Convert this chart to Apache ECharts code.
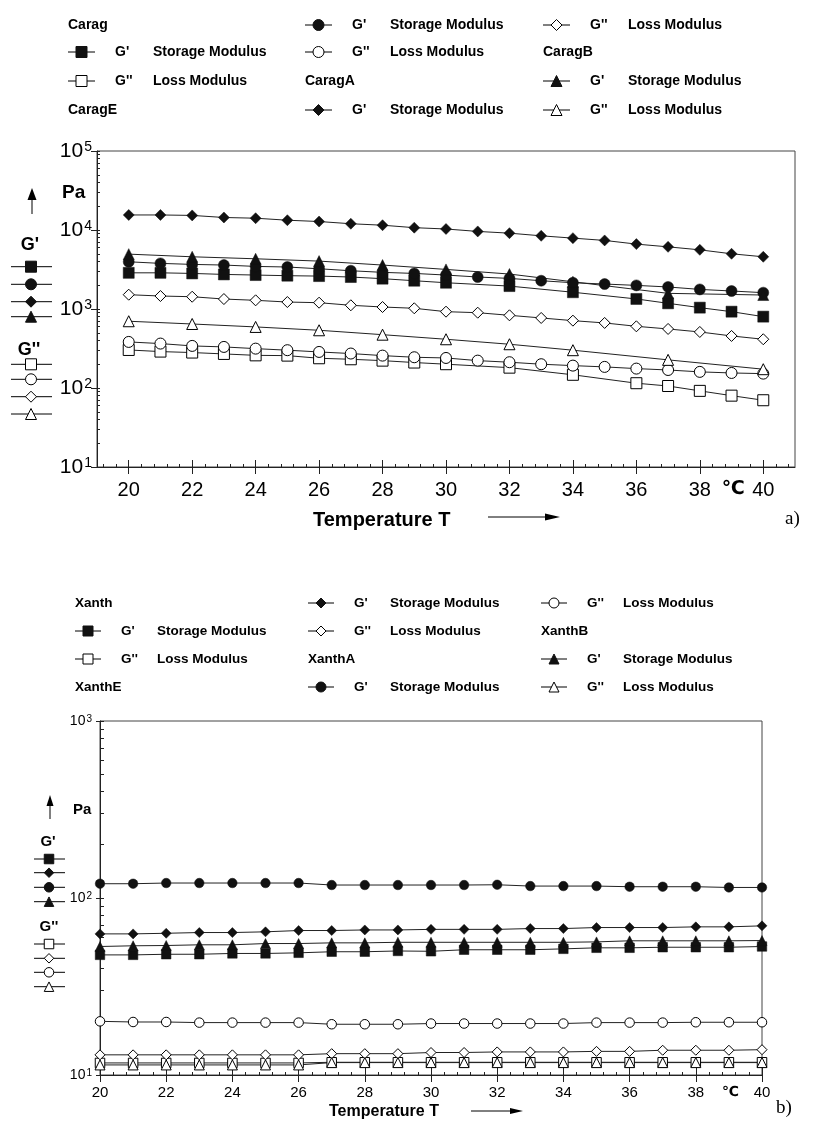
<!DOCTYPE html>
<html><head><meta charset="utf-8">
<script src="https://cdn.jsdelivr.net/npm/echarts@6/dist/echarts.min.js"></script>
<style>html,body{margin:0;padding:0;background:#fff}#c{width:816px;height:1122px}</style>
</head><body><div id="c"></div>
<script>
// ---------- DATA: chart a (Carrageenan) ----------
const tempAll = [20,21,22,23,24,25,26,27,28,29,30,31,32,33,34,35,36,37,38,39,40];
const tempCarag = [20,21,22,23,24,25,26,27,28,29,30,32,34,36,37,38,39,40];
const tempCaragB = [20,22,24,26,28,30,32,34,37,40];
const caragG1  = [2870,2870,2820,2740,2690,2640,2610,2540,2420,2280,2150,1950,1630,1340,1180,1040,925,800];
const caragG2  = [303,289,281,270,259,257,238,231,222,210,200,181,147,115,106,92,80,70];
const caragEG1 = [3960,3780,3670,3600,3460,3400,3230,3050,2910,2820,2690,2540,2440,2280,2150,2070,1990,1900,1770,1690,1610];
const caragEG2 = [383,365,341,331,315,301,286,273,257,245,240,222,212,200,192,185,176,169,160,155,152];
const caragAG1 = [15500,15500,15300,14400,14100,13300,12800,12000,11500,10700,10300,9590,9120,8440,7890,7380,6630,6120,5610,5000,4580];
const caragAG2 = [1517,1460,1430,1337,1288,1225,1202,1114,1060,1021,925,898,832,770,712,666,604,559,512,456,414];
const caragBG1 = [4950,4580,4320,4040,3600,3170,2770,2210,1578,1503];
const caragBG2 = [700,646,593,538,473,414,358,301,227,173];

// ---------- DATA: chart b (Xanthan) ----------
const xanthG1  = [47.7,47.7,48.1,48.1,48.6,48.6,49.0,49.7,49.7,50.2,50.0,51.0,51.0,51.0,51.6,52.3,52.3,52.7,52.7,52.7,53.2];
const xanthG2  = [11.7,11.7,11.7,11.7,11.7,11.7,11.7,11.8,11.8,11.8,11.8,11.8,11.8,11.8,11.8,11.8,11.8,11.8,11.8,11.8,11.8];
const xanthEG1 = [62.7,62.7,63.2,63.8,63.8,64.4,65.5,65.5,66.0,66.0,66.5,66.5,66.5,67.2,67.2,68.1,68.1,68.1,68.7,68.7,69.6];
const xanthEG2 = [13.0,13.0,13.0,13.0,13.0,13.0,13.0,13.2,13.2,13.2,13.4,13.4,13.5,13.5,13.5,13.6,13.6,13.8,13.8,13.8,13.9];
const xanthAG1 = [120.4,120.4,121.5,121.5,121.5,121.5,121.5,118.4,118.4,118.4,118.4,118.4,118.8,116.8,116.8,116.8,115.8,115.8,115.8,114.7,114.7];
const xanthAG2 = [20.1,19.93,19.93,19.77,19.77,19.77,19.77,19.35,19.35,19.35,19.53,19.53,19.53,19.53,19.53,19.77,19.77,19.77,19.86,19.86,19.86];
const xanthBG1 = [53.2,53.7,53.9,54.4,54.4,55.3,55.3,55.8,55.8,56.2,56.2,56.2,56.2,56.2,56.2,56.5,57.3,57.3,57.3,57.3,57.5];
const xanthBG2 = [11.4,11.4,11.4,11.4,11.4,11.4,11.4,11.75,11.75,11.75,11.75,11.75,11.75,11.75,11.75,11.75,11.75,11.75,11.75,11.75,11.75];

// ---------- tick labels ----------
const xMajor = [20,22,24,26,28,30,32,34,36,38,40];
const CELSIUS_POS = 39.05;
const xLabels = [20,22,24,26,28,30,32,34,36,38,CELSIUS_POS,40];
const celsiusText = '℃';
const storageText = "Storage Modulus", lossText = "Loss Modulus";

// legend entries in reading (column-major) order
const legendA = [
  {h:'Carag'}, {s:'rect',f:1,g:"G'",t:storageText}, {s:'rect',f:0,g:"G''",t:lossText}, {h:'CaragE'},
  {s:'circle',f:1,g:"G'",t:storageText}, {s:'circle',f:0,g:"G''",t:lossText}, {h:'CaragA'}, {s:'diamond',f:1,g:"G'",t:storageText},
  {s:'diamond',f:0,g:"G''",t:lossText}, {h:'CaragB'}, {s:'triangle',f:1,g:"G'",t:storageText}, {s:'triangle',f:0,g:"G''",t:lossText}
];
const legendB = [
  {h:'Xanth'}, {s:'rect',f:1,g:"G'",t:storageText}, {s:'rect',f:0,g:"G''",t:lossText}, {h:'XanthE'},
  {s:'diamond',f:1,g:"G'",t:storageText}, {s:'diamond',f:0,g:"G''",t:lossText}, {h:'XanthA'}, {s:'circle',f:1,g:"G'",t:storageText},
  {s:'circle',f:0,g:"G''",t:lossText}, {h:'XanthB'}, {s:'triangle',f:1,g:"G'",t:storageText}, {s:'triangle',f:0,g:"G''",t:lossText}
];
const keyA = {g1:['rect','circle','diamond','triangle'], g2:['rect','circle','diamond','triangle']};
const keyB = {g1:['rect','diamond','circle','triangle'], g2:['rect','diamond','circle','triangle']};

// ---------- helpers ----------
const FONT = 'Liberation Sans';
function minorX(k0, k1){ const a=[]; for(let k=k0;k<=k1;k++){ if(k%5) a.push(Math.round(k*4)/10); } return a; }
function logTicks(e0, e1){ const a=[]; for(let e=e0;e<e1;e++){ for(let m=1;m<=9;m++) a.push(m*Math.pow(10,e)); } a.push(Math.pow(10,e1)); return a; }

function mkSeries(name, xs, ys, sym, filled, size, xi, yi){
  return {
    name, type:'line', xAxisIndex:xi, yAxisIndex:yi,
    data: xs.map((x,i)=>[x, ys[i]]),
    symbol: sym, symbolSize: size, showSymbol:true, showAllSymbol:true,
    lineStyle:{color:'#222', width:1},
    itemStyle: filled ? {color:'#111', borderColor:'#111', borderWidth:0.5} : {color:'#fff', borderColor:'#000', borderWidth:1},
    emphasis:{disabled:true}, silent:true, animation:false
  };
}

function symbolEl(type, cx, cy, s, filled){
  const style = filled ? {fill:'#111', stroke:'#111', lineWidth:1} : {fill:'#fff', stroke:'#000', lineWidth:1};
  if (type==='rect') return {type:'rect', shape:{x:cx-s/2, y:cy-s/2, width:s, height:s}, style, z:101};
  if (type==='circle') return {type:'circle', shape:{cx, cy, r:s/2}, style, z:101};
  if (type==='diamond') return {type:'polygon', shape:{points:[[cx,cy-s/2],[cx+s/2,cy],[cx,cy+s/2],[cx-s/2,cy]]}, style, z:101};
  return {type:'polygon', shape:{points:[[cx,cy-s/2],[cx+s/2,cy+s/2],[cx-s/2,cy+s/2]]}, style, z:101};
}
function lineEl(x1,y1,x2,y2){ return {type:'line', shape:{x1,y1,x2,y2}, style:{stroke:'#000', lineWidth:1}, z:100}; }
function textEl(text, x, y, font, align){ return {type:'text', x, y, style:{text, font, fill:'#000', align:align||'left', verticalAlign:'middle'}, z:102}; }
function arrowUp(x, yb, yt, hw, hh){ return [lineEl(x,yb,x,yt+hh), {type:'polygon', shape:{points:[[x,yt],[x+hw,yt+hh],[x-hw,yt+hh]]}, style:{fill:'#000'}, z:100}]; }
function arrowRight(x1, x2, y, hw, hl){ return [lineEl(x1,y,x2-hl,y), {type:'polygon', shape:{points:[[x2,y],[x2-hl,y-hw],[x2-hl,y+hw]]}, style:{fill:'#000'}, z:100}]; }

function legendEls(items, colX, rowY, o){
  const els=[];
  items.forEach((it,i)=>{
    const x=colX[Math.floor(i/4)], y=rowY[i%4];
    if (it.h){ els.push(textEl(it.h, x, y, o.font)); return; }
    els.push(lineEl(x, y, x+o.iw, y));
    els.push(symbolEl(it.s, x+o.iw/2, y, o.ss, it.f));
    els.push(textEl(it.g, x+o.gx, y, o.font));
    els.push(textEl(it.t, x+o.tx, y, o.font));
  });
  return els;
}
function keyEls(key, o){
  const els=[];
  els.push(...arrowUp(o.ax, o.ab, o.at, o.ahw, o.ahh));
  els.push(textEl('Pa', o.pax, o.pay, o.pafont));
  els.push(textEl("G'", o.g1x, o.g1y, o.gfont, 'center'));
  key.g1.forEach((s,i)=>{ els.push(lineEl(o.lx1, o.r1[i], o.lx2, o.r1[i])); els.push(symbolEl(s, o.sx, o.r1[i], o.ss, true)); });
  els.push(textEl("G''", o.g2x, o.g2y, o.gfont, 'center'));
  key.g2.forEach((s,i)=>{ els.push(lineEl(o.lx1, o.r2[i], o.lx2, o.r2[i])); els.push(symbolEl(s, o.sx, o.r2[i], o.ss, false)); });
  return els;
}

function expLabel(v){ const e=Math.round(Math.log10(v)); return '{b|10}{s|'+e+'}'; }
function xLabelFmt(v){ return Math.abs(v-CELSIUS_POS)<1e-6 ? '{c|'+celsiusText+'}' : String(v); }

function xAxes(grid, min, max, o){
  const base = {gridIndex:grid, type:'value', min, max, position:'bottom', splitLine:{show:false}};
  return [
    Object.assign({}, base, {
      axisLine:{show:true, onZero:false, lineStyle:{color:'#222', width:1}},
      axisTick:{show:true, customValues:xMajor, length:o.tl, inside:false, lineStyle:{color:'#222'}},
      axisLabel:{show:true, customValues:xLabels, hideOverlap:false, formatter:xLabelFmt, fontFamily:FONT, fontSize:o.fs, color:'#000', margin:o.lm,
        rich:{c:{fontFamily:'DejaVu Sans', fontWeight:'bold', fontSize:o.fs-1, color:'#000'}}}
    }),
    Object.assign({}, base, {axisLine:{show:false}, axisLabel:{show:false},
      axisTick:{show:true, customValues:xMajor, length:o.tl, inside:true, lineStyle:{color:'#222'}}}),
    Object.assign({}, base, {axisLine:{show:false}, axisLabel:{show:false},
      axisTick:{show:true, customValues:minorX(o.k0,o.k1), length:3, inside:true, lineStyle:{color:'#222'}}})
  ];
}
function yAxes(grid, min, max, o){
  const base = {gridIndex:grid, type:'log', logBase:10, min, max, position:'left', splitLine:{show:false}};
  return [
    Object.assign({}, base, {
      axisLine:{show:true, onZero:false, lineStyle:{color:'#222', width:1}},
      axisTick:{show:true, length:o.tl, inside:false, lineStyle:{color:'#222'}},
      axisLabel:{show:true, formatter:expLabel, margin:o.lm, color:'#000',
        rich:{ b:{fontFamily:FONT, fontSize:o.bf, lineHeight:o.bf+1, padding:[o.bp,0,0,0], verticalAlign:'bottom', color:'#000'},
               s:{fontFamily:FONT, fontSize:o.sf, lineHeight:o.sf, padding:[o.sp,0,0,1], verticalAlign:'top', color:'#000'} }}
    }),
    Object.assign({}, base, {axisLine:{show:false}, axisLabel:{show:false},
      axisTick:{show:true, customValues:logTicks(o.e0,o.e1), length:o.il, inside:true, lineStyle:{color:'#222'}}})
  ];
}

const graphics = [].concat(
  legendEls(legendA, [68,305,543], [25,52,81,110], {font:'bold 14px "'+FONT+'"', iw:27, ss:11, gx:47, tx:85}),
  legendEls(legendB, [75,308,541], [603,631,659,687], {font:'bold 13.5px "'+FONT+'"', iw:26, ss:10, gx:46, tx:82}),
  keyEls(keyA, {ax:32, ab:214, at:188, ahw:4.5, ahh:12, pax:62, pay:193, pafont:'bold 19px "'+FONT+'"',
    g1x:30, g1y:245, g2x:29, g2y:350, gfont:'bold 18px "'+FONT+'"', lx1:11, lx2:52, sx:31, ss:11,
    r1:[266.7,284.3,301.7,316.7], r2:[364.3,379.3,396.7,414]}),
  keyEls(keyB, {ax:50, ab:819, at:795, ahw:3.5, ahh:11, pax:73, pay:810, pafont:'bold 15px "'+FONT+'"',
    g1x:48, g1y:842, g2x:49, g2y:927, gfont:'bold 15px "'+FONT+'"', lx1:34, lx2:65, sx:49, ss:9.5,
    r1:[859,872.7,887.3,901.7], r2:[944,958.3,972.3,986.7]}),
  [textEl('Temperature T', 313, 520, 'bold 20px "'+FONT+'"')],
  arrowRight(488, 560, 517, 3.5, 15),
  [textEl('a)', 785, 519, '19px "Liberation Serif"')],
  [textEl('Temperature T', 329, 1112, 'bold 16px "'+FONT+'"')],
  arrowRight(471, 523, 1111, 3, 13),
  [textEl('b)', 776, 1108, '19px "Liberation Serif"')]
);

const SA = 11, SB = 9.5;
const option = {
  animation:false,
  backgroundColor:'#fff',
  textStyle:{fontFamily:FONT},
  grid:[
    {left:97, top:151, width:698, height:316, show:true, borderColor:'#444', borderWidth:1, backgroundColor:'transparent', containLabel:false, outerBoundsMode:'none'},
    {left:100, top:721, width:662, height:354, show:true, borderColor:'#444', borderWidth:1, backgroundColor:'transparent', containLabel:false, outerBoundsMode:'none'}
  ],
  xAxis: [].concat(
    xAxes(0, 19, 41, {tl:7, fs:20, lm:13, k0:48, k1:102}),
    xAxes(1, 20, 40, {tl:7, fs:15, lm:10, k0:50, k1:100})
  ),
  yAxis: [].concat(
    yAxes(0, 10, 100000, {tl:6, il:3, lm:5, bf:21, sf:14, bp:6, sp:0, e0:1, e1:5}),
    yAxes(1, 10, 1000, {tl:4, il:4, lm:8, bf:14, sf:10, bp:10, sp:1, e0:1, e1:3})
  ),
  series:[
    mkSeries('Carag G1', tempCarag, caragG1, 'rect', true, SA, 0, 0),
    mkSeries('Carag G2', tempCarag, caragG2, 'rect', false, SA, 0, 0),
    mkSeries('CaragE G1', tempAll, caragEG1, 'circle', true, SA, 0, 0),
    mkSeries('CaragE G2', tempAll, caragEG2, 'circle', false, SA, 0, 0),
    mkSeries('CaragA G1', tempAll, caragAG1, 'diamond', true, SA, 0, 0),
    mkSeries('CaragA G2', tempAll, caragAG2, 'diamond', false, SA, 0, 0),
    mkSeries('CaragB G1', tempCaragB, caragBG1, 'triangle', true, SA, 0, 0),
    mkSeries('CaragB G2', tempCaragB, caragBG2, 'triangle', false, SA, 0, 0),
    mkSeries('Xanth G1', tempAll, xanthG1, 'rect', true, SB, 3, 2),
    mkSeries('Xanth G2', tempAll, xanthG2, 'rect', false, SB, 3, 2),
    mkSeries('XanthE G1', tempAll, xanthEG1, 'diamond', true, 10, 3, 2),
    mkSeries('XanthE G2', tempAll, xanthEG2, 'diamond', false, 10, 3, 2),
    mkSeries('XanthA G1', tempAll, xanthAG1, 'circle', true, SB, 3, 2),
    mkSeries('XanthA G2', tempAll, xanthAG2, 'circle', false, SB, 3, 2),
    mkSeries('XanthB G1', tempAll, xanthBG1, 'triangle', true, 10, 3, 2),
    mkSeries('XanthB G2', tempAll, xanthBG2, 'triangle', false, 10, 3, 2)
  ],
  graphic:{elements:graphics}
};
const chart = echarts.init(document.getElementById('c'), null, {renderer:'canvas'});
chart.setOption(option);
</script>
</body></html>
